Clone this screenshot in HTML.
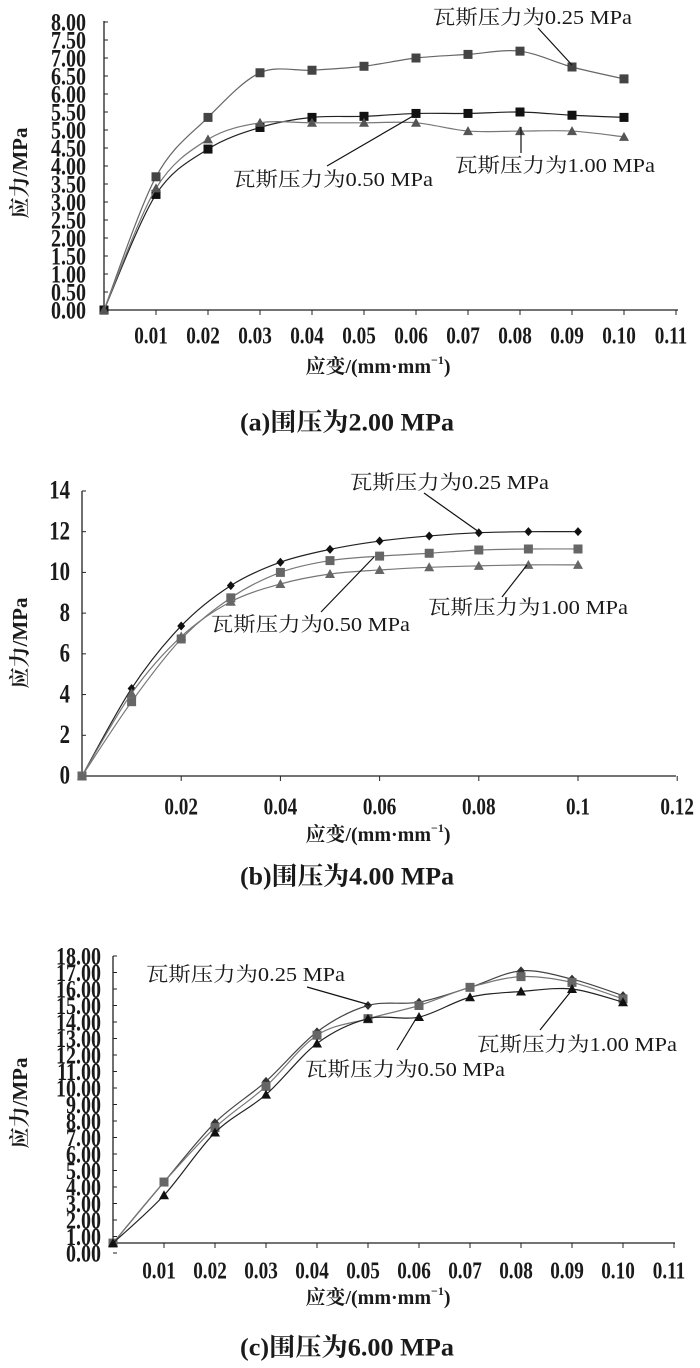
<!DOCTYPE html>
<html><head><meta charset="utf-8"><style>
html,body{margin:0;padding:0;background:#fff;}
svg{display:block;}
text{font-family:"Liberation Serif","Noto Serif CJK SC",serif;fill:#1a1a1a;}
.cn{font-family:"Liberation Serif","Noto Serif CJK SC",serif;}
</style></head><body>
<svg id="fig" width="700" height="1368" viewBox="0 0 700 1368" xmlns="http://www.w3.org/2000/svg"></svg>
<script>
// ---- Chart (a) data ----
const aCategories = [0, 0.01, 0.02, 0.03, 0.04, 0.05, 0.06, 0.07, 0.08, 0.09, 0.10];
const aS025 = [0, 3.70, 5.35, 6.59, 6.66, 6.77, 7.00, 7.10, 7.19, 6.75, 6.42];
const aS050 = [0, 3.21, 4.47, 5.07, 5.35, 5.38, 5.46, 5.46, 5.50, 5.41, 5.35];
const aS100 = [0, 3.38, 4.74, 5.20, 5.20, 5.20, 5.20, 4.97, 4.97, 4.97, 4.81];
const aYTicks = ["0.00","0.50","1.00","1.50","2.00","2.50","3.00","3.50","4.00","4.50","5.00","5.50","6.00","6.50","7.00","7.50","8.00"];
const aXTicks = ["0.01","0.02","0.03","0.04","0.05","0.06","0.07","0.08","0.09","0.10","0.11"];
// ---- Chart (b) data ----
const bCategories = [0, 0.01, 0.02, 0.03, 0.04, 0.05, 0.06, 0.07, 0.08, 0.09, 0.10];
const bS025 = [0, 4.30, 7.37, 9.35, 10.50, 11.13, 11.54, 11.79, 11.95, 12.00, 12.00];
const bS050 = [0, 3.65, 6.73, 8.75, 10.00, 10.58, 10.80, 10.94, 11.10, 11.15, 11.15];
const bS100 = [0, 4.06, 6.85, 8.56, 9.43, 9.92, 10.12, 10.25, 10.32, 10.37, 10.37];
const bYTicks = ["0","2","4","6","8","10","12","14"];
const bXTicks = ["0.02","0.04","0.06","0.08","0.1","0.12"];
// ---- Chart (c) data ----
const cCategories = [0, 0.01, 0.02, 0.03, 0.04, 0.05, 0.06, 0.07, 0.08, 0.09, 0.10];
const cS025 = [0.6, 4.3, 7.9, 10.4, 13.4, 15.0, 15.2, 16.1, 17.1, 16.6, 15.6];
const cS050 = [0.6, 4.3, 7.6, 10.1, 13.2, 14.2, 15.0, 16.1, 16.75, 16.4, 15.4];
const cS100 = [0.6, 3.5, 7.3, 9.6, 12.7, 14.2, 14.3, 15.5, 15.85, 16.0, 15.2];
const cYTicks = ["0.00","1.00","2.00","3.00","4.00","5.00","6.00","7.00","8.00","9.00","10.00","11.00","12.00","13.00","14.00","15.00","16.00","17.00","18.00"];
const cXTicks = ["0.01","0.02","0.03","0.04","0.05","0.06","0.07","0.08","0.09","0.10","0.11"];

const NS = "http://www.w3.org/2000/svg";
const svg = document.getElementById('fig');
function mk(tag, attrs, parent){ const e=document.createElementNS(NS,tag); for(const k in attrs) e.setAttribute(k,attrs[k]); (parent||svg).appendChild(e); return e; }
function txt(parent, x, y, s, size, anchor, extra){ const t=mk('text',Object.assign({x:x,y:y,'font-size':size,'text-anchor':anchor||'middle','dominant-baseline':'central'},extra||{}),parent); t.textContent=s; return t; }
function smooth(pts){ let d='M'+pts[0][0]+','+pts[0][1]; for(let i=0;i<pts.length-1;i++){ const p0=pts[i-1]||pts[i], p1=pts[i], p2=pts[i+1], p3=pts[i+2]||p2; const t=0.16; d+=' C'+(p1[0]+(p2[0]-p0[0])*t)+','+(p1[1]+(p2[1]-p0[1])*t)+' '+(p2[0]-(p3[0]-p1[0])*t)+','+(p2[1]-(p3[1]-p1[1])*t)+' '+p2[0]+','+p2[1]; } return d; }
function marker(g, type, x, y, fill){
  let m;
  if(type==='sq') m=mk('rect',{x:x-4.5,y:y-4.5,width:9,height:9,fill:fill},g);
  else if(type==='tri') m=mk('polygon',{points:(x)+','+(y-5)+' '+(x+5)+','+(y+4)+' '+(x-5)+','+(y+4),fill:fill},g);
  else m=mk('polygon',{points:x+','+(y-4.5)+' '+(x+4)+','+y+' '+x+','+(y+4.5)+' '+(x-4)+','+y,fill:fill},g);
  
  
}

function chart(cfg){
  const g = mk('g',{});
  
  
  const X = v => cfg.x0 + v * cfg.xs;
  const Y = v => cfg.y0 - v * cfg.ys;
  const ya=mk('line',{x1:cfg.x0,y1:cfg.axisY,x2:cfg.x0,y2:cfg.yTop,stroke:'#222','stroke-width':1.3},g);
   
  const xa=mk('line',{x1:cfg.x0,y1:cfg.axisY,x2:cfg.xEnd,y2:cfg.axisY,stroke:'#222','stroke-width':1.3},g);
   
  cfg.yTicks.forEach((s,i)=>{
    const v=parseFloat(s), y=Y(v);
    mk('line',{x1:cfg.x0,y1:y,x2:cfg.x0+4,y2:y,stroke:'#222','stroke-width':1},g);
    const t=txt(g,0,0,s,cfg.yFont,'end',{'font-weight':'bold',transform:'translate('+(cfg.x0-cfg.yLabGap)+','+y+') scale(0.8,1)'});
     
  });
  cfg.xTicks.forEach(s=>{
    const v=parseFloat(s), x=X(v);
    mk('line',{x1:x,y1:cfg.axisY,x2:x,y2:cfg.axisY+5,stroke:'#222','stroke-width':1},g);
    const t=txt(g,0,0,s,cfg.xFont,'middle',{'font-weight':'bold',transform:'translate('+(x+cfg.xLabShift)+','+cfg.xLabY+') scale(0.8,1)'});
     
  });
  cfg.series.forEach(sr=>{
    const pts = cfg.cats.map((c,i)=>[X(c), Y(sr.vals[i])]);
    const p=mk('path',{d:smooth(pts),fill:'none',stroke:sr.line,'stroke-width':1.2},g);
    
    
    pts.forEach(q=>marker(g,sr.mk,q[0],q[1],sr.fill));
  });
  cfg.notes.forEach(n=>{
    const l=mk('line',{x1:n.l[0],y1:n.l[1],x2:n.l[2],y2:n.l[3],stroke:'#111','stroke-width':1.2},g);
     
    const t=txt(g,n.x,n.y,n.s,20,'start',{textLength:n.w,lengthAdjust:'spacingAndGlyphs','class':'cn'});
     
  });
  const yt=txt(g,0,0,'应力/MPa',21,'middle',{transform:'translate('+cfg.yTitle[0]+','+cfg.yTitle[1]+') rotate(-90)','font-weight':'bold','class':'cn'});
   
  const xt=mk('text',{x:cfg.xTitle[0],y:cfg.xTitle[1],'font-size':20,'text-anchor':'middle','dominant-baseline':'central','class':'cn','font-weight':'bold'},g);
  xt.innerHTML='应变/(mm·mm<tspan font-size="12" dy="-7">−1</tspan><tspan dy="7">)</tspan>';
   
  const cp=txt(g,cfg.cap[0]-107,cfg.cap[1],cfg.capText,25,'start',{'font-weight':'bold','class':'cn',textLength:214,lengthAdjust:'spacingAndGlyphs'});
   
}

chart({name:'chart-a', x0:104, xs:5200, y0:310, ys:36, axisY:310, yTop:21, xEnd:678,
  yTicks:aYTicks, xTicks:aXTicks, yFont:25, yLabGap:18, xFont:24, xLabShift:-5, xLabY:336, cats:aCategories,
  series:[{name:'series-0.25MPa',vals:aS025,mk:'sq',fill:'#444',line:'#666'},
          {name:'series-0.50MPa',vals:aS050,mk:'sq',fill:'#111',line:'#222'},
          {name:'series-1.00MPa',vals:aS100,mk:'tri',fill:'#555',line:'#777'}],
  notes:[{s:'瓦斯压力为0.25 MPa',x:433,y:18,w:199,l:[538,28,572,65]},
         {s:'瓦斯压力为1.00 MPa',x:455,y:166,w:200,l:[521,153,521,127]},
         {s:'瓦斯压力为0.50 MPa',x:233,y:180,w:200,l:[327,166,413,116]}],
  yTitle:[20,173], xTitle:[378,367], cap:[347,423], capText:'(a)围压为2.00 MPa'});

chart({name:'chart-b', x0:82, xs:4960, y0:776, ys:20.36, axisY:776, yTop:491, xEnd:676,
  yTicks:bYTicks, xTicks:bXTicks, yFont:26, yLabGap:12, xFont:24, xLabShift:0, xLabY:807, cats:bCategories,
  series:[{name:'series-0.25MPa',vals:bS025,mk:'dia',fill:'#111',line:'#222'},
          {name:'series-0.50MPa',vals:bS050,mk:'sq',fill:'#666',line:'#777'},
          {name:'series-1.00MPa',vals:bS100,mk:'tri',fill:'#666',line:'#777'}],
  notes:[{s:'瓦斯压力为0.25 MPa',x:350,y:483,w:199,l:[424,493,479,532]},
         {s:'瓦斯压力为1.00 MPa',x:428,y:608,w:200,l:[502,597,527,565]},
         {s:'瓦斯压力为0.50 MPa',x:211,y:625,w:199,l:[321,612,374,557]}],
  yTitle:[20,643], xTitle:[378,835], cap:[347,877], capText:'(b)围压为4.00 MPa'});

chart({name:'chart-c', x0:113, xs:5100, y0:1253, ys:16.5, axisY:1243, yTop:956, xEnd:675,
  yTicks:cYTicks, xTicks:cXTicks, yFont:25, yLabGap:12, xFont:24, xLabShift:-5, xLabY:1271, cats:cCategories,
  series:[{name:'series-0.25MPa',vals:cS025,mk:'dia',fill:'#333',line:'#444'},
          {name:'series-0.50MPa',vals:cS050,mk:'sq',fill:'#666',line:'#777'},
          {name:'series-1.00MPa',vals:cS100,mk:'tri',fill:'#111',line:'#222'}],
  notes:[{s:'瓦斯压力为0.25 MPa',x:146,y:975,w:199,l:[307,987,370,1005]},
         {s:'瓦斯压力为0.50 MPa',x:305,y:1070,w:200,l:[397,1050,417,1017]},
         {s:'瓦斯压力为1.00 MPa',x:477,y:1045,w:200,l:[540,1030,572,990]}],
  yTitle:[20,1103], xTitle:[378,1298], cap:[347,1348], capText:'(c)围压为6.00 MPa'});
</script>
</body></html>
